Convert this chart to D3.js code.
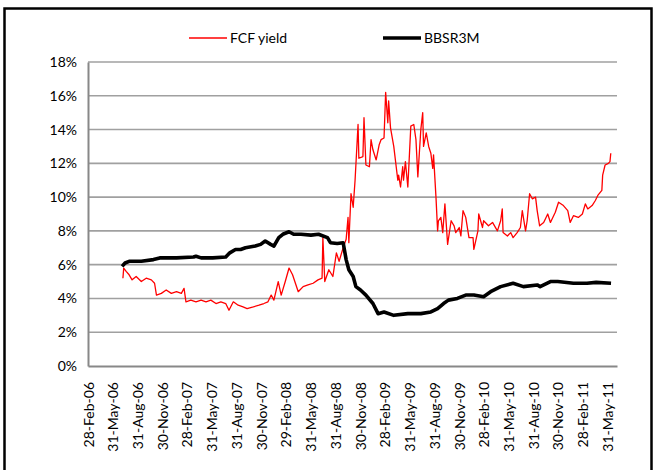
<!DOCTYPE html>
<html>
<head>
<meta charset="utf-8">
<script src="https://cdn.jsdelivr.net/npm/d3@7"></script>
<style>
  body { margin: 0; background: #fff; }
  text { font-family: Lato, "Open Sans", sans-serif; fill: #000; }
</style>
</head>
<body>
<div id="chart"></div>
<script>
// FCF yield (%)
const fcfDates = ["2006-07-07","2006-07-10","2006-07-19","2006-07-30","2006-08-10","2006-08-25","2006-09-13","2006-10-01","2006-10-20","2006-11-01",
  "2006-11-08","2006-11-26","2006-12-14","2007-01-02","2007-01-21","2007-02-08","2007-02-18","2007-02-25","2007-03-15","2007-04-03",
  "2007-04-22","2007-05-10","2007-05-28","2007-06-16","2007-07-04","2007-07-22","2007-08-03","2007-08-19","2007-09-06","2007-09-24",
  "2007-10-09","2007-11-01","2007-11-22","2007-12-10","2007-12-25","2008-01-06","2008-01-16","2008-02-01","2008-02-12","2008-02-27",
  "2008-03-12","2008-03-25","2008-04-15","2008-05-03","2008-05-21","2008-06-09","2008-06-27","2008-07-12","2008-07-15","2008-07-22",
  "2008-08-06","2008-08-21","2008-09-03","2008-09-13","2008-09-28","2008-10-09","2008-10-16","2008-10-19","2008-10-27","2008-11-04",
  "2008-11-11","2008-11-22","2008-11-25","2008-12-10","2008-12-14","2008-12-21","2009-01-03","2009-01-09","2009-01-16","2009-01-28",
  "2009-02-08","2009-02-15","2009-02-26","2009-03-04","2009-03-12","2009-03-15","2009-03-22","2009-04-03","2009-04-18","2009-04-21",
  "2009-04-28","2009-05-06","2009-05-09","2009-05-16","2009-05-25","2009-06-05","2009-06-16","2009-06-24","2009-07-01","2009-07-12",
  "2009-07-19","2009-07-22","2009-08-01","2009-08-10","2009-08-18","2009-08-25","2009-08-28","2009-09-06","2009-09-12","2009-09-15",
  "2009-09-24","2009-10-01","2009-10-09","2009-10-19","2009-11-01","2009-11-12","2009-11-18","2009-12-01","2009-12-07","2009-12-15",
  "2009-12-25","2010-01-06","2010-01-21","2010-01-24","2010-02-08","2010-02-11","2010-02-25","2010-03-01","2010-03-19","2010-04-03",
  "2010-04-21","2010-05-03","2010-05-09","2010-05-12","2010-05-28","2010-06-09","2010-06-18","2010-07-03","2010-07-15","2010-07-22",
  "2010-08-03","2010-08-09","2010-08-18","2010-08-28","2010-09-09","2010-09-15","2010-09-24","2010-10-09","2010-10-24","2010-11-03",
  "2010-11-21","2010-12-03","2010-12-21","2011-01-06","2011-01-15","2011-01-27","2011-02-14","2011-03-01","2011-03-12","2011-03-21",
  "2011-04-06","2011-04-18","2011-04-27","2011-05-12","2011-05-15","2011-05-24","2011-06-05","2011-06-11","2011-06-14"];
const fcfValues = [5.2,5.8,5.6,5.4,5.1,5.3,5.0,5.2,5.1,4.9,
  4.2,4.3,4.5,4.3,4.4,4.3,4.6,3.8,3.9,3.8,
  3.9,3.8,3.9,3.7,3.8,3.7,3.3,3.8,3.6,3.5,
  3.4,3.5,3.6,3.7,3.8,4.2,3.9,5.0,4.2,5.0,
  5.8,5.4,4.4,4.7,4.8,4.9,5.1,5.2,7.6,5.0,
  5.7,5.3,6.7,6.2,7.0,7.5,8.8,7.3,10.2,9.4,
  11.0,14.3,12.3,12.4,14.7,11.9,11.8,13.4,12.8,12.2,
  13.1,13.4,13.5,16.2,14.4,15.7,14.1,13.0,11.0,11.3,
  10.6,11.8,11.0,12.1,10.6,14.2,14.3,13.4,11.2,14.0,
  15.0,13.0,13.8,13.0,12.6,11.7,12.5,10.0,8.0,8.6,
  8.8,7.9,9.6,7.2,8.6,8.3,7.9,8.2,7.7,9.2,
  8.8,7.6,7.6,6.9,8.0,9.0,8.2,8.6,8.3,8.5,
  8.0,8.6,9.3,7.9,7.7,7.9,7.6,7.9,8.2,9.2,
  8.0,8.6,10.2,9.9,10.0,9.2,8.3,8.5,9.0,8.5,
  9.1,9.7,9.5,9.2,8.5,8.9,8.8,9.0,9.6,9.3,
  9.5,9.8,10.1,10.4,11.3,11.9,12.0,12.1,12.6];

// BBSR3M (%)
const bbsrDates = ["2006-07-04","2006-07-15","2006-07-30","2006-09-13","2006-10-28","2006-11-20","2007-01-21","2007-03-25","2007-04-03","2007-04-22",
  "2007-06-04","2007-07-22","2007-08-06","2007-08-27","2007-09-15","2007-10-03","2007-11-08","2007-11-28","2007-12-15","2008-01-04",
  "2008-01-16","2008-02-03","2008-02-18","2008-03-12","2008-03-29","2008-04-25","2008-06-01","2008-06-29","2008-08-01","2008-08-12",
  "2008-09-06","2008-09-28","2008-10-09","2008-10-19","2008-11-04","2008-11-14","2008-12-01","2008-12-21","2009-01-16","2009-02-04",
  "2009-02-26","2009-04-03","2009-05-25","2009-07-12","2009-08-18","2009-09-12","2009-10-04","2009-10-22","2009-11-24","2009-12-25",
  "2010-01-24","2010-03-01","2010-03-27","2010-05-03","2010-06-18","2010-07-26","2010-09-15","2010-09-26","2010-11-03","2010-11-30",
  "2011-01-27","2011-03-18","2011-04-21","2011-06-15"];
const bbsrValues = [5.9,6.1,6.2,6.2,6.3,6.4,6.4,6.45,6.5,6.4,
  6.4,6.45,6.7,6.9,6.9,7.0,7.1,7.2,7.4,7.2,
  7.1,7.6,7.8,7.95,7.8,7.8,7.75,7.8,7.6,7.3,
  7.25,7.3,6.3,5.7,5.3,4.7,4.5,4.2,3.7,3.1,
  3.2,3.0,3.1,3.1,3.2,3.4,3.7,3.9,4.0,4.2,
  4.2,4.1,4.4,4.7,4.9,4.7,4.8,4.7,5.0,5.0,
  4.9,4.9,4.95,4.9];

const xTickLabels = ["2006-02-28","2006-05-31","2006-08-31","2006-11-30","2007-02-28","2007-05-31","2007-08-31","2007-11-30",
  "2008-02-29","2008-05-31","2008-08-31","2008-11-30","2009-02-28","2009-05-31","2009-08-31","2009-11-30",
  "2010-02-28","2010-05-31","2010-08-31","2010-11-30","2011-02-28","2011-05-31"];
const yTicks = [0, 2, 4, 6, 8, 10, 12, 14, 16, 18];
const seriesNames = ["FCF yield", "BBSR3M"];

const W = 656, H = 470;
const parse = d3.timeParse("%Y-%m-%d");

const svg = d3.select("#chart").append("svg")
    .attr("width", W)
    .attr("height", H);

// outer frame
svg.append("rect")
    .attr("x", 4.5).attr("y", 8.5)
    .attr("width", 647).attr("height", 470)
    .attr("fill", "none")
    .attr("stroke", "#000")
    .attr("stroke-width", 2.5);

let x = d3.scaleTime()
    .domain([parse("2006-02-28"), parse("2011-07-07")])
    .range([88, 617]);

let y = d3.scaleLinear()
    .domain([0, 18])
    .range([366, 62]);

// gridlines
svg.append("g")
    .selectAll("line")
    .data(yTicks.filter(d => d > 0))
    .enter()
    .append("line")
    .attr("x1", 88).attr("x2", 617)
    .attr("y1", d => y(d)).attr("y2", d => y(d))
    .attr("stroke", "#a0a0a0")
    .attr("stroke-width", 1.6);

// y axis
let yAxis = svg.append("g")
    .attr("transform", "translate(88,0)")
    .call(d3.axisLeft(y).tickValues(yTicks).tickSize(0).tickPadding(11).tickFormat(d => d + "%"));
yAxis.select(".domain").attr("stroke", "#888").attr("stroke-width", 2);
yAxis.selectAll("text").style("font-size", "14px");

// x axis
let xAxis = svg.append("g")
    .attr("transform", "translate(0,366)")
    .call(d3.axisBottom(x).tickValues(xTickLabels.map(parse)).tickSize(0).tickFormat(d3.timeFormat("%d-%b-%y")));
xAxis.select(".domain").attr("stroke", "#888").attr("stroke-width", 2);
xAxis.selectAll("text")
    .style("font-size", "14px")
    .attr("text-anchor", "end")
    .attr("transform", "rotate(-90)")
    .attr("x", -16)
    .attr("y", 0)
    .attr("dy", "0.36em");

// lines
let line = d3.line()
    .x(d => x(d.date))
    .y(d => y(d.value));

let fcf = fcfDates.map((d, i) => ({date: parse(d), value: fcfValues[i]}));
let bbsr = bbsrDates.map((d, i) => ({date: parse(d), value: bbsrValues[i]}));

svg.append("path")
    .datum(fcf)
    .attr("d", line)
    .attr("fill", "none")
    .attr("stroke", "#ff0000")
    .attr("stroke-width", 1.3)
    .attr("stroke-linejoin", "round");

svg.append("path")
    .datum(bbsr)
    .attr("d", line)
    .attr("fill", "none")
    .attr("stroke", "#000")
    .attr("stroke-width", 3.6)
    .attr("stroke-linejoin", "round");

// legend
let legend = svg.append("g");
let legendItems = [
    {name: seriesNames[0], x: 189, color: "#ff0000", width: 1.3},
    {name: seriesNames[1], x: 383, color: "#000", width: 3.6}
];
legendItems.forEach(item => {
    legend.append("line")
        .attr("x1", item.x).attr("x2", item.x + 38)
        .attr("y1", 38).attr("y2", 38)
        .attr("stroke", item.color)
        .attr("stroke-width", item.width);
    legend.append("text")
        .attr("x", item.x + 41)
        .attr("y", 38)
        .attr("dy", "0.36em")
        .style("font-size", "14px")
        .text(item.name);
});
</script>
</body>
</html>
